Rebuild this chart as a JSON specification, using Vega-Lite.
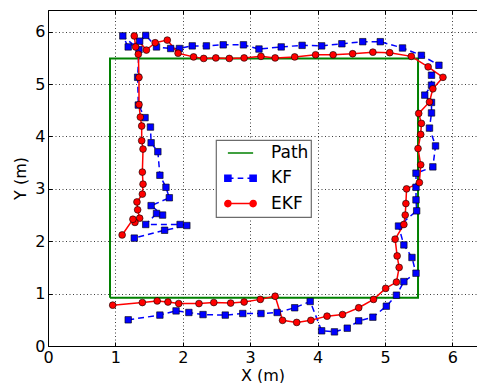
{
  "$schema": "https://vega.github.io/schema/vega-lite/v6.json",
  "width": 429,
  "height": 336,
  "autosize": {"type": "none"},
  "padding": {"left": 48, "top": 10, "right": 0, "bottom": 37},
  "config": {
    "font": "DejaVu Sans",
    "view": {"stroke": null},
    "axis": {
      "labelFont": "DejaVu Sans", "labelFontSize": 16, "labelColor": "#000",
      "titleFont": "DejaVu Sans", "titleFontSize": 16, "titleColor": "#000", "titleFontWeight": "normal",
      "domainColor": "#000", "domainWidth": 1, "tickColor": "#000", "tickWidth": 1,
      "gridColor": "#000", "gridDash": [1, 2.5], "gridWidth": 0.9, "gridOpacity": 0.85,
      "labelFlush": false, "labelOverlap": false
    }
  },
  "data": {"values": [
    {"s":"Path","i":0,"x":0.92,"y":0.92},{"s":"Path","i":1,"x":5.49,"y":0.92},{"s":"Path","i":2,"x":5.49,"y":5.49},{"s":"Path","i":3,"x":0.92,"y":5.49},{"s":"Path","i":4,"x":0.92,"y":0.92},
    {"s":"KF","i":0,"x":1.19,"y":0.50},{"s":"KF","i":1,"x":1.66,"y":0.59},{"s":"KF","i":2,"x":1.90,"y":0.67},{"s":"KF","i":3,"x":2.09,"y":0.64},{"s":"KF","i":4,"x":2.30,"y":0.60},
    {"s":"KF","i":5,"x":2.63,"y":0.59},{"s":"KF","i":6,"x":2.89,"y":0.62},{"s":"KF","i":7,"x":3.16,"y":0.62},{"s":"KF","i":8,"x":3.40,"y":0.64},{"s":"KF","i":9,"x":3.66,"y":0.73},
    {"s":"KF","i":10,"x":3.89,"y":0.85},{"s":"KF","i":11,"x":4.06,"y":0.29},{"s":"KF","i":12,"x":4.25,"y":0.27},{"s":"KF","i":13,"x":4.44,"y":0.34},{"s":"KF","i":14,"x":4.61,"y":0.48},
    {"s":"KF","i":15,"x":4.82,"y":0.55},{"s":"KF","i":16,"x":5.02,"y":0.76},{"s":"KF","i":17,"x":5.17,"y":0.97},{"s":"KF","i":18,"x":5.28,"y":1.23},{"s":"KF","i":19,"x":5.46,"y":1.39},
    {"s":"KF","i":20,"x":5.40,"y":1.69},{"s":"KF","i":21,"x":5.28,"y":1.93},{"s":"KF","i":22,"x":5.20,"y":2.29},{"s":"KF","i":23,"x":5.47,"y":2.58},{"s":"KF","i":24,"x":5.46,"y":2.79},
    {"s":"KF","i":25,"x":5.46,"y":3.03},{"s":"KF","i":26,"x":5.46,"y":3.30},{"s":"KF","i":27,"x":5.71,"y":3.42},{"s":"KF","i":28,"x":5.75,"y":3.82},{"s":"KF","i":29,"x":5.66,"y":4.16},
    {"s":"KF","i":30,"x":5.69,"y":4.45},{"s":"KF","i":31,"x":5.69,"y":4.65},{"s":"KF","i":32,"x":5.59,"y":4.79},{"s":"KF","i":33,"x":5.69,"y":4.98},{"s":"KF","i":34,"x":5.69,"y":5.17},
    {"s":"KF","i":35,"x":5.80,"y":5.36},{"s":"KF","i":36,"x":5.54,"y":5.55},{"s":"KF","i":37,"x":5.26,"y":5.69},{"s":"KF","i":38,"x":4.93,"y":5.81},{"s":"KF","i":39,"x":4.67,"y":5.81},
    {"s":"KF","i":40,"x":4.36,"y":5.77},{"s":"KF","i":41,"x":4.06,"y":5.73},{"s":"KF","i":42,"x":3.77,"y":5.74},{"s":"KF","i":43,"x":3.46,"y":5.71},{"s":"KF","i":44,"x":3.13,"y":5.67},
    {"s":"KF","i":45,"x":2.90,"y":5.75},{"s":"KF","i":46,"x":2.60,"y":5.75},{"s":"KF","i":47,"x":2.35,"y":5.73},{"s":"KF","i":48,"x":2.14,"y":5.73},{"s":"KF","i":49,"x":1.95,"y":5.68},
    {"s":"KF","i":50,"x":1.82,"y":5.68},{"s":"KF","i":51,"x":1.61,"y":5.71},{"s":"KF","i":52,"x":1.45,"y":5.93},{"s":"KF","i":53,"x":1.36,"y":5.82},{"s":"KF","i":54,"x":1.19,"y":5.71},
    {"s":"KF","i":55,"x":1.11,"y":5.92},{"s":"KF","i":56,"x":1.35,"y":5.66},{"s":"KF","i":57,"x":1.33,"y":5.13},{"s":"KF","i":58,"x":1.34,"y":4.60},{"s":"KF","i":59,"x":1.44,"y":4.36},
    {"s":"KF","i":60,"x":1.52,"y":4.18},{"s":"KF","i":61,"x":1.53,"y":3.88},{"s":"KF","i":62,"x":1.63,"y":3.71},{"s":"KF","i":63,"x":1.66,"y":3.26},{"s":"KF","i":64,"x":1.75,"y":3.03},
    {"s":"KF","i":65,"x":1.80,"y":2.83},{"s":"KF","i":66,"x":1.53,"y":2.68},{"s":"KF","i":67,"x":1.70,"y":2.50},{"s":"KF","i":68,"x":1.61,"y":2.53},{"s":"KF","i":69,"x":1.45,"y":2.32},
    {"s":"KF","i":70,"x":1.96,"y":2.32},{"s":"KF","i":71,"x":2.06,"y":2.30},{"s":"KF","i":72,"x":1.73,"y":2.21},{"s":"KF","i":73,"x":1.28,"y":2.06},
    {"s":"EKF","i":0,"x":0.96,"y":0.78},{"s":"EKF","i":1,"x":1.40,"y":0.83},{"s":"EKF","i":2,"x":1.62,"y":0.86},{"s":"EKF","i":3,"x":1.78,"y":0.84},{"s":"EKF","i":4,"x":1.94,"y":0.81},
    {"s":"EKF","i":5,"x":2.24,"y":0.81},{"s":"EKF","i":6,"x":2.46,"y":0.83},{"s":"EKF","i":7,"x":2.71,"y":0.82},{"s":"EKF","i":8,"x":2.91,"y":0.84},{"s":"EKF","i":9,"x":3.15,"y":0.89},
    {"s":"EKF","i":10,"x":3.37,"y":0.95},{"s":"EKF","i":11,"x":3.48,"y":0.49},{"s":"EKF","i":12,"x":3.69,"y":0.45},{"s":"EKF","i":13,"x":3.90,"y":0.49},{"s":"EKF","i":14,"x":4.14,"y":0.57},
    {"s":"EKF","i":15,"x":4.37,"y":0.60},{"s":"EKF","i":16,"x":4.61,"y":0.73},{"s":"EKF","i":17,"x":4.83,"y":0.89},{"s":"EKF","i":18,"x":5.01,"y":1.10},{"s":"EKF","i":19,"x":5.17,"y":1.22},
    {"s":"EKF","i":20,"x":5.21,"y":1.50},{"s":"EKF","i":21,"x":5.18,"y":1.72},{"s":"EKF","i":22,"x":5.15,"y":2.04},{"s":"EKF","i":23,"x":5.28,"y":2.32},{"s":"EKF","i":24,"x":5.30,"y":2.50},
    {"s":"EKF","i":25,"x":5.31,"y":2.72},{"s":"EKF","i":26,"x":5.32,"y":3.00},{"s":"EKF","i":27,"x":5.51,"y":3.12},{"s":"EKF","i":28,"x":5.53,"y":3.46},{"s":"EKF","i":29,"x":5.49,"y":3.77},
    {"s":"EKF","i":30,"x":5.53,"y":4.04},{"s":"EKF","i":31,"x":5.54,"y":4.25},{"s":"EKF","i":32,"x":5.50,"y":4.44},{"s":"EKF","i":33,"x":5.66,"y":4.66},{"s":"EKF","i":34,"x":5.71,"y":4.91},
    {"s":"EKF","i":35,"x":5.86,"y":5.13},{"s":"EKF","i":36,"x":5.64,"y":5.33},{"s":"EKF","i":37,"x":5.39,"y":5.53},{"s":"EKF","i":38,"x":5.07,"y":5.60},{"s":"EKF","i":39,"x":4.82,"y":5.61},
    {"s":"EKF","i":40,"x":4.52,"y":5.58},{"s":"EKF","i":41,"x":4.23,"y":5.56},{"s":"EKF","i":42,"x":3.97,"y":5.56},{"s":"EKF","i":43,"x":3.66,"y":5.52},{"s":"EKF","i":44,"x":3.37,"y":5.50},
    {"s":"EKF","i":45,"x":3.16,"y":5.53},{"s":"EKF","i":46,"x":2.91,"y":5.50},{"s":"EKF","i":47,"x":2.69,"y":5.49},{"s":"EKF","i":48,"x":2.49,"y":5.50},{"s":"EKF","i":49,"x":2.31,"y":5.49},
    {"s":"EKF","i":50,"x":2.16,"y":5.52},{"s":"EKF","i":51,"x":1.93,"y":5.59},{"s":"EKF","i":52,"x":1.77,"y":5.84},{"s":"EKF","i":53,"x":1.59,"y":5.79},{"s":"EKF","i":54,"x":1.46,"y":5.65},
    {"s":"EKF","i":55,"x":1.28,"y":5.92},{"s":"EKF","i":56,"x":1.30,"y":5.71},{"s":"EKF","i":57,"x":1.34,"y":5.57},{"s":"EKF","i":58,"x":1.35,"y":5.13},{"s":"EKF","i":59,"x":1.35,"y":4.61},
    {"s":"EKF","i":60,"x":1.37,"y":4.37},{"s":"EKF","i":61,"x":1.39,"y":4.20},{"s":"EKF","i":62,"x":1.39,"y":3.92},{"s":"EKF","i":63,"x":1.41,"y":3.76},{"s":"EKF","i":64,"x":1.40,"y":3.32},
    {"s":"EKF","i":65,"x":1.41,"y":3.09},{"s":"EKF","i":66,"x":1.40,"y":2.90},{"s":"EKF","i":67,"x":1.32,"y":2.75},{"s":"EKF","i":68,"x":1.33,"y":2.60},{"s":"EKF","i":69,"x":1.36,"y":2.44},
    {"s":"EKF","i":70,"x":1.29,"y":2.36},{"s":"EKF","i":71,"x":1.26,"y":2.42},{"s":"EKF","i":72,"x":1.10,"y":2.12}
  ]},
  "resolve": {"axis": {"x": "independent"}},
  "layer": [
    {
      "transform": [{"filter": "datum.s === 'Path'"}],
      "mark": {"type": "line", "strokeWidth": 2, "clip": true},
      "encoding": {
        "x": {"field": "x", "type": "quantitative", "scale": {"domain": [0, 6.365], "nice": false, "zero": false},
              "axis": {"orient": "bottom", "values": [0,1,2,3,4,5,6], "format": "d", "title": "X (m)", "grid": true, "tickSize": -4, "labelPadding": 7, "titlePadding": 2}},
        "y": {"field": "y", "type": "quantitative", "scale": {"domain": [0, 6.415], "nice": false, "zero": false},
              "axis": {"orient": "left", "values": [0,1,2,3,4,5,6], "format": "d", "title": "Y (m)", "grid": true, "tickSize": -4, "labelPadding": 7, "titlePadding": 6}},
        "order": {"field": "i", "type": "quantitative"},
        "color": {"field": "s", "type": "nominal", "scale": {"domain": ["Path", "KF", "EKF"], "range": ["#008000", "#0000ff", "#ff0000"]},
          "legend": {
            "title": null, "orient": "none", "legendX": 168, "legendY": 130, "direction": "vertical",
            "padding": 2, "fillColor": "white", "strokeColor": "#6b6b6b", "cornerRadius": 0,
            "symbolSize": 1892, "symbolStrokeWidth": 1.5, "labelOffset": 8, "labelFontSize": 17, "labelFont": "DejaVu Sans", "labelColor": "#000",
            "clipHeight": 22, "rowPadding": 3.3,
            "encode": {
              "legend": {"update": {"strokeWidth": {"value": 1.2}}},
              "symbols": {"update": {
              "shape": {"signal": "datum.value === 'KF' ? 'M-0.58,0H-0.32M-0.13,0H0.13M0.32,0H0.58M-0.72,-0.14H-0.44V0.14H-0.72ZM0.44,-0.14H0.72V0.14H0.44Z' : (datum.value === 'EKF' ? 'M-0.58,0H0.58M-0.44,0A0.14,0.14,0,1,1,-0.72,0A0.14,0.14,0,1,1,-0.44,0ZM0.72,0A0.14,0.14,0,1,1,0.44,0A0.14,0.14,0,1,1,0.72,0Z' : 'M-0.58,0H0.58')"},
              "fill": {"signal": "datum.value === 'KF' ? '#0000ff' : (datum.value === 'EKF' ? '#ff0000' : 'transparent')"},
              "stroke": {"signal": "datum.value === 'KF' ? '#0000ff' : (datum.value === 'EKF' ? '#ff0000' : '#008000')"},
              "opacity": {"value": 1}
            }}}
          }}
      }
    },
    {
      "transform": [{"filter": "datum.s === 'KF'"}],
      "mark": {"type": "line", "strokeWidth": 1.5, "strokeDash": [6, 4], "clip": true},
      "encoding": {
        "x": {"field": "x", "type": "quantitative",
              "axis": {"orient": "top", "values": [0,1,2,3,4,5,6], "labels": false, "title": null, "grid": false, "tickSize": -4}},
        "y": {"field": "y", "type": "quantitative"},
        "order": {"field": "i", "type": "quantitative"},
        "color": {"field": "s", "type": "nominal"}
      }
    },
    {
      "transform": [{"filter": "datum.s === 'EKF'"}],
      "mark": {"type": "line", "strokeWidth": 1.5, "clip": true},
      "encoding": {
        "x": {"field": "x", "type": "quantitative", "axis": null},
        "y": {"field": "y", "type": "quantitative"},
        "order": {"field": "i", "type": "quantitative"},
        "color": {"field": "s", "type": "nominal"}
      }
    },
    {
      "transform": [{"filter": "datum.s === 'KF'"}],
      "mark": {"type": "point", "shape": "square", "filled": true, "size": 42, "stroke": "#000", "strokeWidth": 0.6, "opacity": 1, "clip": true},
      "encoding": {
        "x": {"field": "x", "type": "quantitative", "axis": null},
        "y": {"field": "y", "type": "quantitative"},
        "color": {"field": "s", "type": "nominal"}
      }
    },
    {
      "transform": [{"filter": "datum.s === 'EKF'"}],
      "mark": {"type": "point", "shape": "circle", "filled": true, "size": 46, "stroke": "#000", "strokeWidth": 0.6, "opacity": 1, "clip": true},
      "encoding": {
        "x": {"field": "x", "type": "quantitative", "axis": null},
        "y": {"field": "y", "type": "quantitative"},
        "color": {"field": "s", "type": "nominal"}
      }
    }
  ]
}
